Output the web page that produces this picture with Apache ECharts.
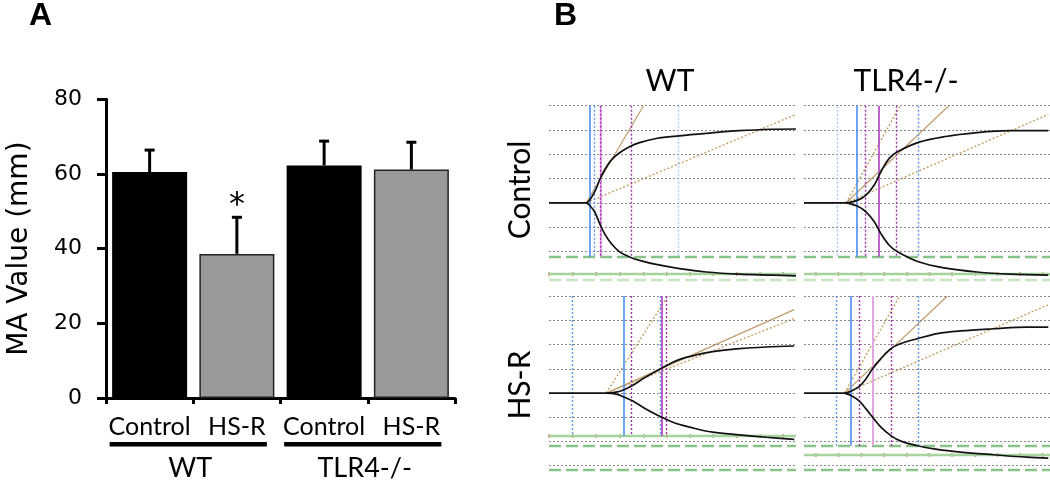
<!DOCTYPE html>
<html><head><meta charset="utf-8">
<script src="https://cdn.jsdelivr.net/npm/echarts@6/dist/echarts.min.js"></script>
<style>html,body{margin:0;padding:0;background:#fff}#c{width:1050px;height:480px}</style>
</head><body><div id="c"></div>
<script>
// ---------- Panel A data ----------
const catLabels = ['Control', 'HS-R', 'Control', 'HS-R'];
const groupLabels = ['WT', 'TLR4-/-'];
const maMean = [60.5, 38.6, 62.3, 61.2];
const maSD = [5.9, 9.8, 6.5, 7.3];
const sigMark = ['', '*', '', ''];

// ---------- Panel B data (time in min, amplitude in mm) ----------
const colLabels = ['WT', 'TLR4-/-'];
const rowLabels = ['Control', 'HS-R'];
const gridYs = [40, 30, 20, 10, 0, -10, -20, -29.6];

const wtCtrlUpper = [[0,0],[9.05,0],[9.86,1.1],[10.67,3.2],[11.48,5.9],[12.29,9.4],[13.5,13.5],[15.12,17.6],[17.14,20.6],[19.56,23.1],[21.99,24.8],[26.03,26.5],[31.69,27.6],[38.16,28.6],[46.24,29.7],[54.33,30.3],[59.98,30.4]];
const wtCtrlLower = [[9.05,0],[9.86,-1.0],[11.08,-3.7],[12.29,-8.5],[13.5,-12.7],[15.12,-16.8],[17.14,-20.2],[19.56,-22.3],[21.99,-23.7],[26.03,-25.4],[31.69,-27.1],[38.16,-28.5],[46.24,-29.4],[54.33,-29.8],[59.98,-30.1]];
const tlrCtrlUpper = [[0,0],[10.27,0],[13.1,1.1],[15.12,3.2],[17.14,7.3],[18.76,12.8],[20.78,18.3],[22.8,21.0],[27.89,24.9],[34.12,27.2],[42.2,28.9],[50.28,29.7],[59.58,29.7]];
const tlrCtrlLower = [[10.27,0],[13.1,-1.4],[15.12,-3.7],[17.14,-7.8],[18.76,-12.7],[20.78,-17.5],[22.8,-20.2],[27.89,-24.3],[34.12,-26.8],[42.2,-28.5],[50.28,-29.4],[59.58,-29.8]];
const wtHsrUpper = [[0,0],[13.9,0],[16.33,0.4],[18.35,1.5],[20.37,3.2],[22.8,5.9],[25.22,8.3],[27.65,10.5],[30.07,12.7],[32.5,14.3],[35.73,15.7],[39.77,17.1],[46.24,18.3],[52.71,19.0],[59.58,19.4]];
const wtHsrLower = [[13.9,0],[16.33,-0.4],[18.35,-1.7],[20.37,-3.3],[22.8,-5.8],[25.22,-8.1],[27.65,-10.2],[30.07,-12.0],[32.5,-13.3],[35.73,-14.7],[39.77,-16.1],[46.24,-17.2],[52.71,-18.2],[59.58,-19.1]];
const tlrHsrUpper = [[0,0],[9.86,0],[11.48,0.8],[13.5,2.8],[15.12,5.9],[16.73,10.0],[18.76,14.2],[21.18,18.3],[23.61,20.4],[27.65,22.4],[32.5,24.5],[38.16,25.6],[46.24,26.5],[54.33,27.2],[59.58,27.2]];
const tlrHsrLower = [[9.86,0],[11.48,-1.0],[13.5,-3.3],[15.12,-6.5],[16.73,-9.9],[18.76,-14.0],[21.18,-17.5],[23.61,-19.8],[27.65,-21.7],[32.5,-23.2],[38.16,-24.3],[46.24,-25.4],[54.33,-26.4],[59.58,-26.8]];

// vertical markers: [time, kind]
const wtCtrlMarks = [[10.0,'blueSolid'],[10.9,'blueDot'],[12.45,'pinkSolid'],[12.45,'purDot'],[20.0,'purDot'],[31.4,'ltBlueDot']];
const tlrCtrlMarks = [[8.08,'ltBlueDot'],[12.93,'blueSolid'],[15.04,'purDot'],[18.19,'magSolid'],[22.55,'purDot'],[27.89,'blueDot']];
const wtHsrMarks = [[5.66,'blueDot'],[18.11,'blueSolid'],[20.05,'purDot'],[27.0,'blueDot'],[27.49,'magSolid'],[28.46,'purDot']];
const tlrHsrMarks = [[7.92,'blueDot'],[11.48,'blueSolid'],[13.58,'purDot'],[16.82,'pinkSolid'],[21.34,'purDot'],[27.81,'blueDot']];
const markTop = [40, 40, 40, 40];
const markBottom = [-22.2, -22.2, -17.7, -21.7];

// tangent lines: [t0, t1, amplitude at t1, kind]
const wtCtrlTangents = [[9.05,22.96,40,'solid'],[9.05,59.98,36.4,'dotted']];
const tlrCtrlTangents = [[10.27,23.44,40,'dotted'],[10.27,35.33,40,'solid'],[10.27,59.58,36.4,'dotted']];
const wtHsrTangents = [[13.9,28.86,40,'dotted'],[13.9,59.58,34.4,'solid'],[13.9,59.58,30.7,'dotted']];
const tlrHsrTangents = [[9.86,23.2,39.6,'dotted'],[9.86,34.92,39.9,'solid'],[9.86,59.58,36.4,'dotted']];

// reference (green) lines: [amplitude, kind]
const wtCtrlRefs = [[-22.2,'gDash'],[-29.3,'gSolid'],[-31.8,'gLight']];
const tlrCtrlRefs = [[-22.2,'gDash'],[-29.3,'gSolid'],[-31.8,'gLight']];
const wtHsrRefs = [[-17.7,'gSolid'],[-21.7,'gDash'],[-31.4,'gDash']];
const tlrHsrRefs = [[-21.7,'gDash'],[-25.5,'gSolid'],[-31.4,'gDash']];
const tickLeft = [0,5.8,11.5,17.3,23.0,28.6,34.3,39.9,45.6,51.3,56.9];
const tickRight = [2.9,8.4,14.0,19.6,25.1,30.6,36.1,41.8,47.2,52.7,58.2];

// ---------- styles ----------
const vStyle = {
  blueSolid: {color:'#4a8ff0', width:1.6, type:'solid'},
  blueDot: {color:'#5a9af0', width:1.4, type:[2,2]},
  ltBlueDot: {color:'#a8c6f2', width:1.4, type:[2,2]},
  purDot: {color:'#a030b0', width:1.4, type:[2,2]},
  magSolid: {color:'#b454c4', width:1.8, type:'solid'},
  pinkSolid: {color:'#e0a8e0', width:2, type:'solid'}
};
const hStyle = {
  gDash: {color:'#88c488', width:2.4, type:[12,5]},
  gSolid: {color:'#a4d49c', width:2.4, type:'solid'},
  gLight: {color:'#c6e4c2', width:2.4, type:[12,5]}
};
const FONT = 'Lato, "Noto Sans", sans-serif';
const WIDE = '"DejaVu Sans", Verdana, sans-serif';

const panels = [
  {upper: wtCtrlUpper, lower: wtCtrlLower, marks: wtCtrlMarks, tangents: wtCtrlTangents, refs: wtCtrlRefs, ticks: tickLeft},
  {upper: tlrCtrlUpper, lower: tlrCtrlLower, marks: tlrCtrlMarks, tangents: tlrCtrlTangents, refs: tlrCtrlRefs, ticks: tickRight},
  {upper: wtHsrUpper, lower: wtHsrLower, marks: wtHsrMarks, tangents: wtHsrTangents, refs: wtHsrRefs, ticks: tickLeft},
  {upper: tlrHsrUpper, lower: tlrHsrLower, marks: tlrHsrMarks, tangents: tlrHsrTangents, refs: tlrHsrRefs, ticks: tickRight}
];
const panelBoxes = [
  {left:549, top:105.7, width:247, height:177.2},
  {left:804, top:105.7, width:246, height:177.2},
  {left:549, top:296, width:247, height:177.2},
  {left:804, top:296, width:246, height:177.2}
];

const grids = [{left:106, top:99.3, width:349, height:298.7}].concat(panelBoxes);
const xAxes = [{
  type:'category', gridIndex:0, data: catLabels,
  axisLine:{lineStyle:{color:'#000', width:3}},
  axisTick:{show:true, length:6, lineStyle:{color:'#000', width:3}},
  axisLabel:{color:'#000', fontFamily:FONT, fontSize:25, margin:16, interval:0, hideOverlap:false}
}];
const yAxes = [{
  type:'value', gridIndex:0, min:0, max:80, interval:20,
  axisLine:{show:true, lineStyle:{color:'#000', width:3}},
  axisTick:{show:true, length:9, lineStyle:{color:'#000', width:3}},
  splitLine:{show:false},
  axisLabel:{color:'#000', fontFamily:WIDE, fontSize:22, margin:24},
  name:'MA Value (mm)', nameLocation:'middle', nameGap:72, nameRotate:90,
  nameTextStyle:{color:'#000', fontFamily:WIDE, fontSize:28}
}];
for (let i = 1; i <= 4; i++) {
  xAxes.push({type:'value', gridIndex:i, min:0, max:60, show:false});
  yAxes.push({type:'value', gridIndex:i, min:-33, max:40, show:false});
}

const series = [
  {
    type:'bar', xAxisIndex:0, yAxisIndex:0, barWidth:75,
    data: maMean.map((v, i) => ({
      value: v,
      itemStyle: i % 2 === 0 ? {color:'#000000'} : {color:'#999999', borderColor:'#222', borderWidth:1.5}
    })),
    z: 2
  },
  {
    type:'custom', xAxisIndex:0, yAxisIndex:0, z: 3,
    data: maMean.map((m, i) => [i, m, maSD[i]]),
    renderItem: function (params, api) {
      const i = api.value(0), m = api.value(1), s = api.value(2);
      const p0 = api.coord([i, m]);
      const p1 = api.coord([i, m + s]);
      const st = {stroke:'#000', lineWidth:3};
      const ch = [
        {type:'line', shape:{x1:p0[0], y1:p0[1], x2:p1[0], y2:p1[1]}, style:st},
        {type:'line', shape:{x1:p1[0]-5, y1:p1[1], x2:p1[0]+5, y2:p1[1]}, style:st}
      ];
      const sig = sigMark[params.dataIndex];
      if (sig) {
        ch.push({type:'text', x:p1[0], y:p1[1]-12, style:{text:sig, fill:'#000', font:'32px ' + WIDE, align:'center', verticalAlign:'middle'}});
      }
      return {type:'group', children: ch};
    }
  }
];

panels.forEach((p, k) => {
  const ax = k + 1;
  const hData = gridYs.map(y => ({yAxis: y, lineStyle:{color:'#8a8a8a', width:1, type:[2,2]}}))
    .concat(p.refs.map(r => ({yAxis: r[0], lineStyle: hStyle[r[1]]})));
  const refSolid = p.refs.find(r => r[1] === 'gSolid');
  series.push({
    type:'line', xAxisIndex:ax, yAxisIndex:ax, data:[], silent:true, z:1,
    markLine:{silent:true, symbol:'none', label:{show:false}, animation:false, data: hData}
  });
  series.push({
    type:'line', xAxisIndex:ax, yAxisIndex:ax, data:[], silent:true, z:2,
    markLine:{silent:true, symbol:'none', label:{show:false}, animation:false,
      data: p.marks.map(m => [
        {coord:[m[0], markTop[k]], lineStyle: vStyle[m[1]]},
        {coord:[m[0], markBottom[k]]}
      ])}
  });
  series.push({
    type:'scatter', xAxisIndex:ax, yAxisIndex:ax, silent:true, z:3,
    symbol:'rect', symbolSize:[1.5, 4], itemStyle:{color:'#c8704c'},
    data: p.ticks.map(t => [t, refSolid[0]])
  });
  p.tangents.forEach(t => {
    series.push({
      type:'line', xAxisIndex:ax, yAxisIndex:ax, silent:true, z:4, showSymbol:false,
      lineStyle: t[3] === 'solid' ? {color:'#bf9b6a', width:1.2, type:'solid'} : {color:'#c6a064', width:1.4, type:[2,2]},
      data: [[t[0], 0], [t[1], t[2]]]
    });
  });
  [p.upper, p.lower].forEach(d => {
    series.push({
      type:'line', xAxisIndex:ax, yAxisIndex:ax, silent:true, z:6, showSymbol:false, smooth:0.35,
      lineStyle:{color:'#111', width:1.7}, data: d
    });
  });
});

const chart = echarts.init(document.getElementById('c'), null, {renderer:'canvas'});
chart.setOption({
  animation:false,
  backgroundColor:'#fff',
  grid: grids, xAxis: xAxes, yAxis: yAxes, series: series
});

// ---------- annotations ----------
const cx = catLabels.map((_, i) => chart.convertToPixel({xAxisIndex:0}, i));
const gfx = [
  {type:'text', left:29, top:0, style:{text:'A', fill:'#000', font:'bold 32px "Liberation Sans", Arial, sans-serif'}},
  {type:'text', left:554, top:0, style:{text:'B', fill:'#000', font:'bold 32px "Liberation Sans", Arial, sans-serif'}}
];
groupLabels.forEach((g, j) => {
  const a = cx[2*j], b = cx[2*j+1];
  gfx.push({type:'rect', shape:{x:a-40, y:442, width:(b+30)-(a-40), height:4.5}, style:{fill:'#000'}});
  gfx.push({type:'text', x:(a+b)/2 - 3, y:468, style:{text:g, fill:'#000', font:'27px ' + FONT, align:'center', verticalAlign:'middle'}});
});
colLabels.forEach((t, j) => {
  gfx.push({type:'text', x: j === 0 ? 670 : 906, y: 81, style:{text:t, fill:'#000', font:'30px ' + FONT, align:'center', verticalAlign:'middle'}});
});
rowLabels.forEach((t, j) => {
  gfx.push({type:'text', x:520, y: j === 0 ? 190 : 385, rotation: Math.PI/2, style:{text:t, fill:'#000', font:'30px ' + FONT, align:'center', verticalAlign:'middle'}});
});
chart.setOption({graphic: gfx});
</script></body></html>
